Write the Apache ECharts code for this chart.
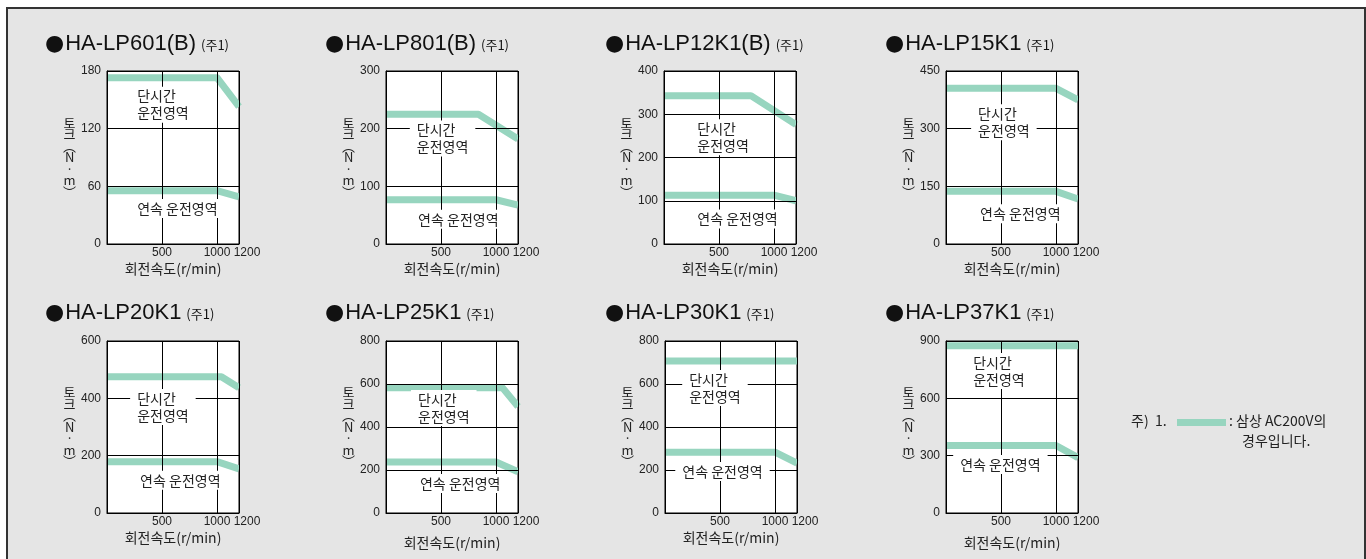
<!DOCTYPE html>
<html>
<head>
<meta charset="utf-8">
<script src="https://cdn.jsdelivr.net/npm/echarts@6/dist/echarts.min.js"></script>
<style>
  html, body { margin: 0; padding: 0; background: #fff; }
  #frame { position: absolute; left: 6px; top: 7px; width: 1356px; height: 600px;
           border: 2px solid #333; background: #e5e5e5; }
  #chart { position: absolute; left: 0; top: 0; width: 1366px; height: 559px; }
</style>
</head>
<body>
<div id="frame"></div>
<div id="chart"></div>
<script>
// ---- data ----
const models = ['HA-LP601(B)', 'HA-LP801(B)', 'HA-LP12K1(B)', 'HA-LP15K1',
                'HA-LP20K1', 'HA-LP25K1', 'HA-LP30K1', 'HA-LP37K1'];
const yMax  = [180, 300, 400, 450, 600, 800, 800, 900];
const yStep = [60, 100, 100, 150, 200, 200, 200, 300];
const xMax = 1200;
const xStep = 500;
// short-time operating region boundary [speed r/min, torque N·m]
const shortTime = [
  [[0, 173], [1000, 173], [1200, 143]],
  [[0, 225], [840, 225], [1200, 182]],
  [[0, 343], [790, 343], [1200, 276]],
  [[0, 405], [1000, 405], [1200, 375]],
  [[0, 475], [1040, 475], [1200, 437]],
  [[0, 582], [1060, 582], [1200, 495]],
  [[0, 707], [1200, 707]],
  [[0, 875], [1200, 875]]
];
// continuous operating region boundary
const continuous = [
  [[0, 55.5], [1000, 55.5], [1200, 49]],
  [[0, 76.7], [1000, 76.7], [1200, 67.5]],
  [[0, 113], [1000, 113], [1200, 100]],
  [[0, 137], [1000, 137], [1200, 117]],
  [[0, 179], [1000, 179], [1200, 154]],
  [[0, 237], [1000, 237], [1200, 192]],
  [[0, 283], [1000, 283], [1200, 232]],
  [[0, 353], [1000, 353], [1200, 290]]
];
// region label anchors [speed at text left, torque at text middle]
const shortLabelAt = [[274, 145], [280, 183], [303, 247], [292, 317], [274, 370], [291, 488], [220, 581], [247, 743]];
const contLabelAt  = [[274, 37], [292, 43], [303, 58], [310, 79], [301, 114], [309, 137], [157, 193], [129, 254]];
const shortLabel = '단시간\n운전영역';
const contLabel = '연속 운전영역';
const xName = '회전속도(r/min)';
const yName = '토\n크\n︵\nN\n·\nm\n︶';
const noteText = ['주)  1.', ': 삼상 AC200V의', '경우입니다.'];

// ---- layout ----
const gridLeft = [107, 386, 664, 946, 107, 386, 665, 946];
const gridTop = [71, 71, 71, 71, 341, 341, 341, 341];
const gridH = [173, 173, 173, 173, 172, 172, 172, 172];
const xNameGap = [18, 18, 18, 18, 18, 23, 18, 23];
const titleLeft = [40, 320, 600, 880, 40, 320, 600, 880];
const titleTop = [28, 28, 28, 28, 297, 297, 297, 297];

const GREEN = '#97d5bf';
const KR = '"Noto Sans CJK KR", sans-serif';
const NUM = '"Liberation Sans", Arial, sans-serif';

const chart = echarts.init(document.getElementById('chart'), null, { renderer: 'canvas' });

const grid = [], xAxis = [], yAxis = [], series = [], title = [];
models.forEach((m, i) => {
  grid.push({ left: gridLeft[i], top: gridTop[i], width: 132, height: gridH[i],
    show: true, backgroundColor: '#fff', borderColor: '#000', borderWidth: 1 });
  title.push({
    left: titleLeft[i], top: titleTop[i],
    text: '{c|●}{m|' + m + '} {s|(주1)}',
    textStyle: { fontWeight: 'normal', rich: {
      c: { fontFamily: '"DejaVu Sans"', fontSize: 22, fontWeight: 'normal', color: '#111', padding: [0, 1, 0, 0] },
      m: { fontFamily: NUM, fontSize: 22, fontWeight: 'normal', color: '#111' },
      s: { fontFamily: KR, fontSize: 13, fontWeight: 'normal', color: '#111', padding: [3, 0, 0, 0] }
    } }
  });
  xAxis.push({
    type: 'value', gridIndex: i, min: 0, max: xMax, interval: xStep, z: 3,
    name: xName, nameLocation: 'middle', nameGap: xNameGap[i],
    nameTextStyle: { fontFamily: KR, fontSize: 14, color: '#222' },
    axisLine: { show: true, onZero: false, lineStyle: { color: '#000', width: 1 } },
    axisTick: { show: false },
    splitLine: { show: true, lineStyle: { color: '#000', width: 1 } },
    axisLabel: {
      showMinLabel: false, showMaxLabel: true, margin: 3,
      fontFamily: NUM, fontSize: 12, color: '#222',
      formatter: v => v === xMax ? '{r|' + v + '}' : String(v),
      rich: { r: { fontFamily: NUM, fontSize: 12, color: '#222', padding: [0, 0, 0, 16] } }
    }
  });
  yAxis.push({
    type: 'value', gridIndex: i, min: 0, max: yMax[i], interval: yStep[i], z: 3,
    name: yName, nameLocation: 'middle', nameGap: 37, nameRotate: 0,
    nameTextStyle: { fontFamily: KR, fontSize: 13, lineHeight: 11.5, color: '#222',
      align: 'center', verticalAlign: 'middle', padding: [6, 0, 0, 0] },
    axisLine: { show: true, lineStyle: { color: '#000', width: 1 } },
    axisTick: { show: false },
    splitLine: { show: true, lineStyle: { color: '#000', width: 1 } },
    axisLabel: { margin: 6, fontFamily: NUM, fontSize: 12, color: '#222' }
  });
  const labelStyle = {
    show: true, position: 'right', distance: 0, offset: [-7, 0],
    formatter: '{b}', fontFamily: KR, fontSize: 14, lineHeight: 17, color: '#222',
    backgroundColor: '#fff', padding: [1, 7], align: 'left'
  };
  series.push({
    type: 'line', xAxisIndex: i, yAxisIndex: i, z: 2,
    data: shortTime[i], symbol: 'none', silent: true,
    lineStyle: { color: GREEN, width: 7, cap: 'butt', join: 'round' },
    markPoint: {
      symbol: 'circle', symbolSize: 0, silent: true, animation: false,
      label: labelStyle,
      data: [{ name: shortLabel, coord: shortLabelAt[i] }]
    }
  });
  series.push({
    type: 'line', xAxisIndex: i, yAxisIndex: i, z: 2,
    data: continuous[i], symbol: 'none', silent: true,
    lineStyle: { color: GREEN, width: 7, cap: 'butt', join: 'round' },
    markPoint: {
      symbol: 'circle', symbolSize: 0, silent: true, animation: false,
      label: labelStyle,
      data: [{ name: contLabel, coord: contLabelAt[i] }]
    }
  });
});

chart.setOption({
  animation: false,
  title, grid, xAxis, yAxis, series,
  graphic: [
    { type: 'text', left: 1131, top: 414,
      style: { text: noteText[0], font: '14px ' + KR, fill: '#222' } },
    { type: 'rect', left: 1177, top: 419,
      shape: { width: 49, height: 7 }, style: { fill: GREEN } },
    { type: 'text', left: 1229, top: 414,
      style: { text: noteText[1], font: '14px ' + KR, fill: '#222' } },
    { type: 'text', left: 1242, top: 434,
      style: { text: noteText[2], font: '14px ' + KR, fill: '#222' } }
  ]
});
</script>
</body>
</html>
